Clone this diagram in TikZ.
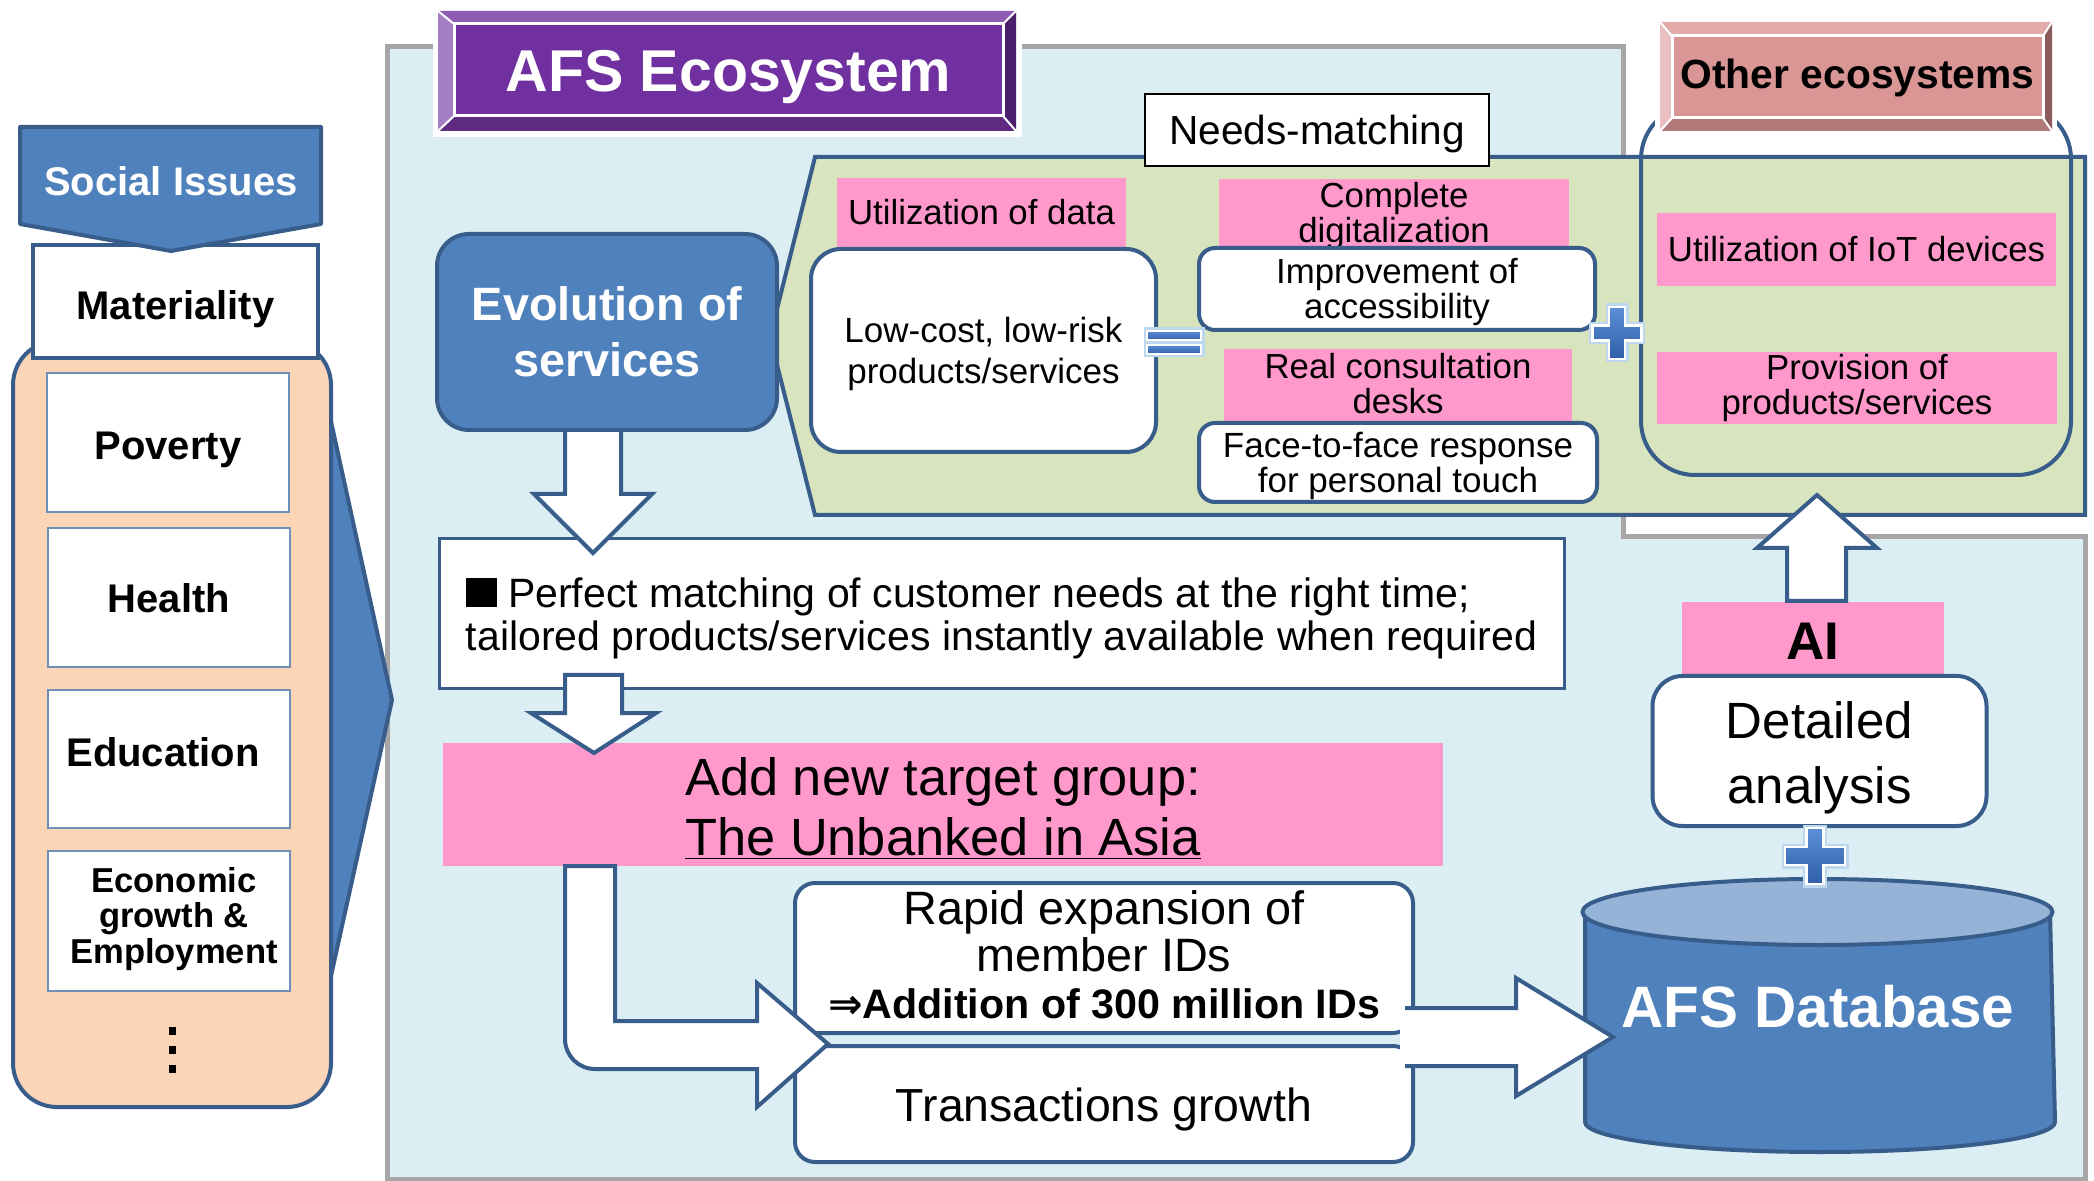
\documentclass[tikz,border=0pt]{standalone}
\usepackage{fontspec}
\setmainfont{Liberation Sans}
\newfontfamily\symfont{DejaVu Sans}
\usetikzlibrary{calc}
\definecolor{panelblue}{HTML}{DAEEF3}
\definecolor{panelgray}{HTML}{A6A6A6}
\definecolor{greenbg}{HTML}{D7E4BD}
\definecolor{pinkbg}{HTML}{FF99CC}
\definecolor{bluefill}{HTML}{4F81BD}
\definecolor{blueline}{HTML}{385D8A}
\definecolor{thinline}{HTML}{6F8FB8}
\definecolor{peach}{HTML}{FBD5B5}
\definecolor{dbtop}{HTML}{95B3D7}
\definecolor{purpface}{HTML}{7030A0}
\definecolor{purptop}{HTML}{8E5CB5}
\definecolor{purpleft}{HTML}{A47DC4}
\definecolor{purpbot}{HTML}{5E2A82}
\definecolor{purpright}{HTML}{4B1F6B}
\definecolor{roseface}{HTML}{D99694}
\definecolor{rosetop}{HTML}{E2AAA8}
\definecolor{roseleft}{HTML}{E9C0BF}
\definecolor{rosebot}{HTML}{B07876}
\definecolor{roseright}{HTML}{8B5B5A}
\definecolor{plusA}{HTML}{5B8FD6}
\definecolor{plusB}{HTML}{2F5FA8}
\definecolor{glowblue}{HTML}{BDD7EE}
\newcommand{\fsz}[2]{\fontsize{#1}{#2}\selectfont}
\tikzset{
  pinklabel/.style={fill=pinkbg, inner sep=0pt},
  wbox/.style={draw=blueline, line width=2pt, fill=white, inner sep=0pt},
  thinbox/.style={draw=thinline, line width=0.8pt, fill=white, inner sep=0pt},
  txt/.style={inner sep=0pt, align=center},
  blockarrow/.style={draw=blueline, line width=2pt, fill=white, line join=miter},
  arrowline/.style={draw=blueline, line width=2pt, line join=miter},
  plusglow/.style={draw=glowblue, line width=3.5pt, line join=miter},
  plusfill/.style={top color=plusA, bottom color=plusB, draw=white, line width=1.1pt},
  dotsq/.style={fill=black, inner sep=0pt, minimum width=3.5pt, minimum height=4.3pt},
  social/.style={txt, font=\bfseries\fsz{20}{20}}
}
\begin{document}
\begin{tikzpicture}[x=0.5pt,y=-0.5pt]
\useasboundingbox (0,0) rectangle (2094,1181);
\fill[white] (0,0) rectangle (2094,1181);

% ecosystem panel
\draw[fill=panelblue, draw=panelgray, line width=2.5pt]
  (387,47) -- (1623,47) -- (1623,537) -- (2085,537) -- (2085,1179) -- (387,1179) -- cycle;

% social issues column
\draw[fill=bluefill, draw=blueline, line width=2pt, line join=round] (325,394) -- (392,700) -- (325,1003) -- cycle;
\draw[fill=peach, draw=blueline, line width=2pt, rounded corners=22pt] (13,341) rectangle (331,1107);
\node[thinbox, minimum width=121pt, minimum height=69.5pt] (pov) at (168,442.5) {};
\node[social] (povt) at ([yshift=-3.5pt]pov.center) {Poverty};
\node[thinbox, minimum width=121pt, minimum height=69.5pt] (hea) at (169,597.5) {};
\node[social] (heat) at ([yshift=-0.5pt]hea.center) {Health};
\node[thinbox, minimum width=121pt, minimum height=69pt] (edu) at (169,759) {};
\node[social] (edut) at (163,752) {Education};
\node[thinbox, minimum width=121pt, minimum height=70pt] (eco) at (169,921) {};
\node[txt, font=\bfseries\fsz{17.3}{17.7}] (ecot) at (174,919) {Economic\\growth \&\\Employment};
\node[dotsq] (d1) at (172,1031) {};
\node[dotsq] (d2) at (172,1050) {};
\node[dotsq] (d3) at (172,1069) {};
\node[wbox, minimum width=142.5pt, minimum height=56.5pt] (mat) at (175.5,301.5) {};
\node[social] (matt) at ([yshift=-4pt]mat.center) {Materiality};
\draw[fill=bluefill, draw=blueline, line width=2pt, line join=round]
  (20,127) -- (321,127) -- (321,224) -- (171,251) -- (20,224) -- cycle;
\node[txt, text=white, font=\bfseries\fsz{20}{20}] (soc) at (171,181) {Social Issues};

% needs-matching panel
\draw[fill=greenbg, draw=blueline, line width=2pt]
  (815,157) -- (2085,157) -- (2085,515) -- (815,515) -- (770,337) -- cycle;
\draw[blueline, line width=2pt, rounded corners=27pt] (1641,105) rectangle (2071,475);

\node[pinklabel, minimum width=144.5pt, minimum height=34.5pt] (udata) at (981.5,212.5) {};
\node[txt, font=\fsz{17.4}{17.5}] (udatat) at (udata.center) {Utilization of data};
\node[pinklabel, minimum width=175pt, minimum height=34pt] (cdig) at (1394,213) {};
\node[txt, font=\fsz{17.4}{17.5}] (cdigt) at ([yshift=-1.5pt]cdig.center) {Complete\\digitalization};
\node[pinklabel, minimum width=174pt, minimum height=36.5pt] (rcons) at (1398,385.5) {};
\node[txt, font=\fsz{17.4}{17.5}] (rconst) at ([yshift=1pt]rcons.center) {Real consultation\\desks};
\node[pinklabel, minimum width=199.5pt, minimum height=36.5pt] (iot) at (1856.5,249.5) {};
\node[txt, font=\fsz{17.4}{17.5}] (iott) at (iot.center) {Utilization of IoT devices};
\node[pinklabel, minimum width=200pt, minimum height=36pt] (prov) at (1857,388) {};
\node[txt, font=\fsz{17.4}{17.5}] (provt) at (prov.center) {Provision of\\products/services};

\node[wbox, rounded corners=15pt, minimum width=172.5pt, minimum height=101.5pt] (low) at (983.5,350.5) {};
\node[txt, font=\fsz{17.5}{20.5}] (lowt) at ([yshift=-1.5pt]low.center) {Low-cost, low-risk\\products/services};
\node[wbox, rounded corners=8pt, minimum width=198pt, minimum height=41pt] (acc) at (1397,289) {};
\node[txt, font=\fsz{17.4}{17.5}] (acct) at ([yshift=-1.5pt]acc.center) {Improvement of\\accessibility};
\node[wbox, rounded corners=8pt, minimum width=199pt, minimum height=39.5pt] (f2f) at (1398,462.5) {};
\node[txt, font=\fsz{17.5}{17.5}] (f2ft) at ([yshift=-1.5pt]f2f.center) {Face-to-face response\\for personal touch};

\node[draw=black, line width=1.1pt, fill=white, inner sep=0pt, minimum width=172pt, minimum height=36pt] (needs) at (1317,130) {};
\node[txt, font=\fsz{20.3}{20.3}] (needst) at ([yshift=-2pt]needs.center) {Needs-matching};

% equals and plus marks
\foreach \yy in {335.5,349.5}{
  \draw[plusglow] (1147,\yy-4.5) rectangle (1201,\yy+4.5);
  \draw[plusfill] (1147,\yy-4.5) rectangle (1201,\yy+4.5);
}
\begin{scope}[shift={(1617,333)}]
  \draw[plusglow] (-8,-26) -- (8,-26) -- (8,-7.5) -- (24.5,-7.5) -- (24.5,7.5) -- (8,7.5) -- (8,26) -- (-8,26) -- (-8,7.5) -- (-24.5,7.5) -- (-24.5,-7.5) -- (-8,-7.5) -- cycle;
  \draw[plusfill] (-8,-26) -- (8,-26) -- (8,-7.5) -- (24.5,-7.5) -- (24.5,7.5) -- (8,7.5) -- (8,26) -- (-8,26) -- (-8,7.5) -- (-24.5,7.5) -- (-24.5,-7.5) -- (-8,-7.5) -- cycle;
\end{scope}

% AFS Ecosystem title plate
\fill[white] (433,8) rectangle (1022,137);
\fill[purptop] (438,11) -- (1016,11) -- (1003,24) -- (454,24) -- cycle;
\fill[purpleft] (438,11) -- (454,24) -- (454,116) -- (438,131) -- cycle;
\fill[purpbot] (438,131) -- (454,116) -- (1003,116) -- (1016,131) -- cycle;
\fill[purpright] (1016,11) -- (1016,131) -- (1003,116) -- (1003,24) -- cycle;
\draw[white, line width=1pt] (438,11) -- (454,24) (1016,11) -- (1003,24) (438,131) -- (454,116) (1016,131) -- (1003,116);
\node[fill=purpface, draw=white, line width=1.5pt, inner sep=0pt, minimum width=274.5pt, minimum height=46pt] (afs) at (728.5,70) {};
\node[txt, text=white, font=\bfseries\fsz{29.5}{29.5}] (afst) at ([yshift=-3.5pt]afs.center) {AFS Ecosystem};

% Other ecosystems title plate
\fill[white] (1655,18) rectangle (2057,135);
\fill[rosetop] (1660,22) -- (2052,22) -- (2043,36) -- (1672,36) -- cycle;
\fill[roseleft] (1660,22) -- (1672,36) -- (1672,118) -- (1660,131) -- cycle;
\fill[rosebot] (1660,131) -- (1672,118) -- (2043,118) -- (2052,131) -- cycle;
\fill[roseright] (2052,22) -- (2052,131) -- (2043,118) -- (2043,36) -- cycle;
\draw[white, line width=1pt] (1660,22) -- (1672,36) (2052,22) -- (2043,36) (1660,131) -- (1672,118) (2052,131) -- (2043,118);
\node[fill=roseface, draw=white, line width=1.5pt, inner sep=0pt, minimum width=185.5pt, minimum height=41pt] (other) at (1857.5,77) {};
\node[txt, font=\bfseries\fsz{20.4}{20.4}] (othert) at ([yshift=-0.5pt]other.center) {Other ecosystems};

% flow towards the new target group
\node[draw=blueline, line width=1.5pt, fill=white, inner sep=0pt, minimum width=562.5pt, minimum height=75pt] (perf) at (1001.5,614) {};
\node[inner sep=0pt, align=left, font=\fsz{20.5}{21.5}] (perft) at ([yshift=-2pt]perf.center)
  {\rule{0.75em}{0.72em} Perfect matching of customer needs at the right time;\\tailored products/services instantly available when required};
\node[pinklabel, minimum width=500pt, minimum height=61.5pt] (tgt) at (943,804.5) {};
\node[txt, font=\fsz{26.2}{30}] (tgtt) at ([yshift=-2pt]tgt.center) {Add new target group:\\\underline{The Unbanked in Asia}};

\draw[blockarrow] (565,430) -- (565,494) -- (534,494) -- (593,553) -- (652,494) -- (621,494) -- (621,430) -- cycle;
\draw[blockarrow] (565,675) -- (622,675) -- (622,713) -- (656,713) -- (594,753) -- (531,713) -- (565,713) -- cycle;

\node[wbox, fill=bluefill, rounded corners=16pt, minimum width=170pt, minimum height=98pt] (evo) at (607,332) {};
\node[txt, text=white, font=\bfseries\fsz{23.4}{28}] (evot) at (evo.center) {Evolution of\\services};

% growth boxes
\node[wbox, rounded corners=10pt, minimum width=309pt, minimum height=75pt] (rapid) at (1104,958) {};
\node[txt, font=\fsz{23.4}{23.6}] (rapidt) at ([yshift=1.5pt]rapid.center)
  {Rapid expansion of\\member IDs\\{\bfseries\fsz{20.6}{23.6}{\symfont\bfseries ⇒}Addition of 300 million IDs}};
\node[wbox, rounded corners=10pt, minimum width=309pt, minimum height=58pt] (trans) at (1104,1104) {};
\node[txt, font=\fsz{23.2}{24}] (transt) at ([yshift=-2.5pt]trans.center) {Transactions growth};

\draw[blockarrow] (565,866) -- (565,1039) .. controls (565,1055.6) and (578.4,1069) .. (595,1069)
  -- (757,1069) -- (757,1107) -- (828,1044) -- (757,983) -- (757,1021) -- (615,1021) -- (615,866) -- cycle;

% database side
\node[pinklabel, minimum width=131pt, minimum height=36.5pt] (ai) at (1813,638.5) {};
\node[txt, font=\bfseries\fsz{26.5}{26.5}] (ait) at ([yshift=-1.5pt]ai.center) {AI};
\node[wbox, rounded corners=15pt, minimum width=167pt, minimum height=75pt] (det) at (1819.5,751) {};
\node[txt, font=\fsz{25.5}{32.5}] (dett) at ([yshift=-3.5pt]det.center) {Detailed\\analysis};

\fill[bluefill] (1585,912) -- (1585,1122) arc[start angle=180, end angle=360, x radius=117.5pt, y radius=15pt] -- (2050,912) -- cycle;
\draw[blueline, line width=2pt] (1585,912) -- (1585,1122) arc[start angle=180, end angle=360, x radius=117.5pt, y radius=15pt] -- (2050,912);
\draw[fill=dbtop, draw=blueline, line width=2pt] (1817.5,912) ellipse[x radius=117.5pt, y radius=16.5pt];

\begin{scope}[shift={(1815,856)}]
  \draw[plusglow] (-8.5,-28) -- (8.5,-28) -- (8.5,-9) -- (30,-9) -- (30,9) -- (8.5,9) -- (8.5,28) -- (-8.5,28) -- (-8.5,9) -- (-30,9) -- (-30,-9) -- (-8.5,-9) -- cycle;
  \draw[plusfill] (-8.5,-28) -- (8.5,-28) -- (8.5,-9) -- (30,-9) -- (30,9) -- (8.5,9) -- (8.5,28) -- (-8.5,28) -- (-8.5,9) -- (-30,9) -- (-30,-9) -- (-8.5,-9) -- cycle;
\end{scope}

\fill[white] (1400,1008) -- (1516,1008) -- (1516,978) -- (1613,1037) -- (1516,1096) -- (1516,1066) -- (1400,1066) -- cycle;
\draw[arrowline] (1405,1008) -- (1516,1008) -- (1516,978) -- (1613,1037) -- (1516,1096) -- (1516,1066) -- (1405,1066);

\node[txt, text=white, font=\bfseries\fsz{29.2}{29.2}] (db) at (1818,1007) {AFS Database};

\draw[blockarrow] (1787,601) -- (1787,548) -- (1757,548) -- (1817,495) -- (1877,548) -- (1846,548) -- (1846,601) -- cycle;
\end{tikzpicture}
\end{document}
